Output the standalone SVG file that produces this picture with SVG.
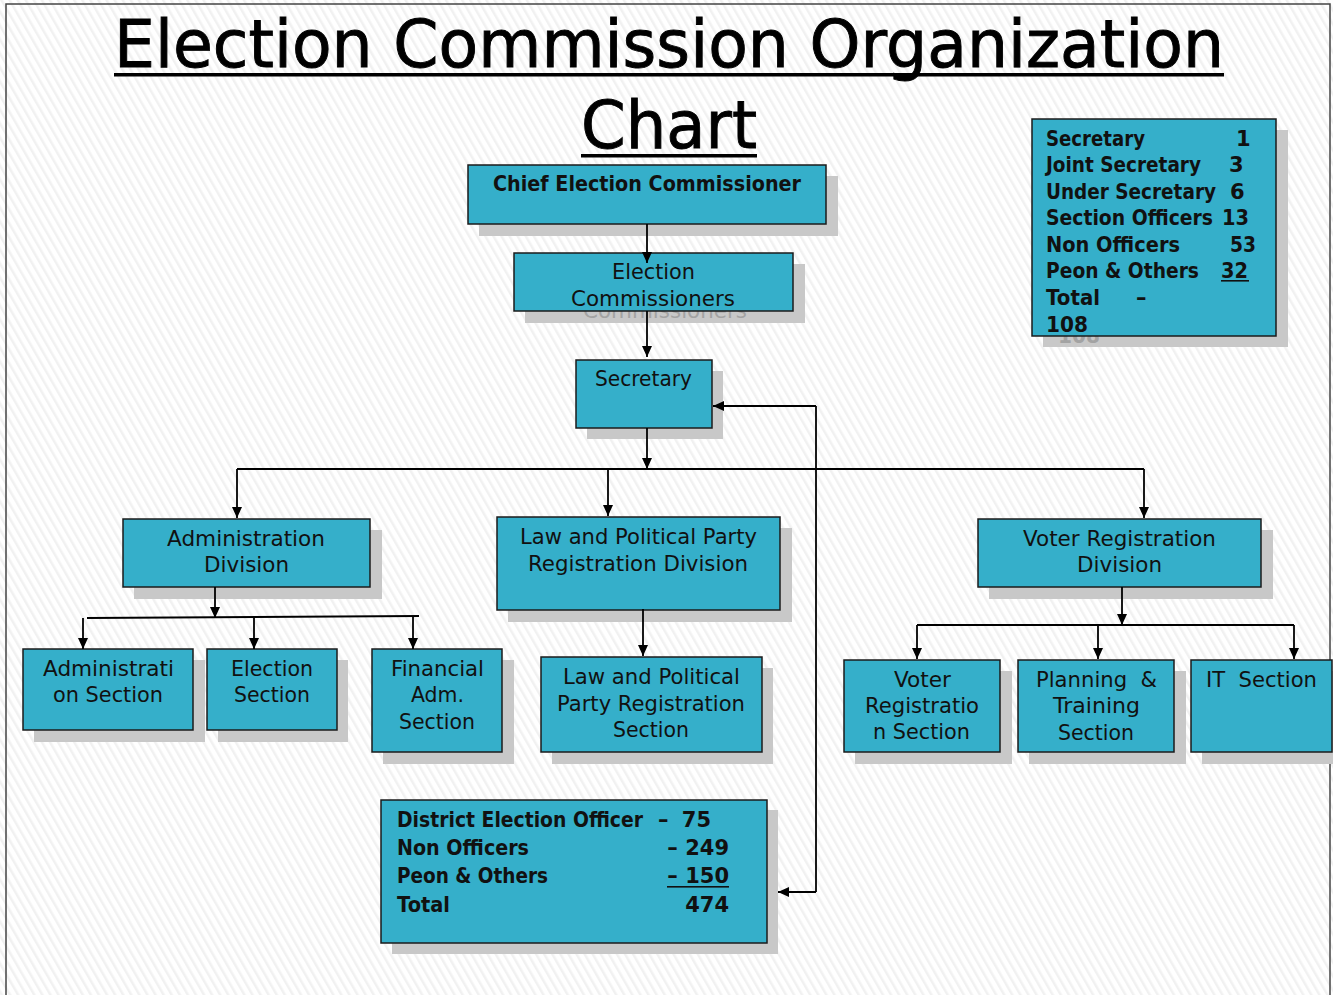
<svg xmlns="http://www.w3.org/2000/svg" width="1333" height="995" viewBox="0 0 1333 995">
<defs>
<pattern id="hatch" width="7" height="7" patternUnits="userSpaceOnUse" patternTransform="rotate(-30)">
<rect width="7" height="7" fill="#ffffff"/>
<rect width="2.5" height="7" fill="#f1f1f1"/>
</pattern>
<marker id="ah" markerUnits="userSpaceOnUse" markerWidth="12" markerHeight="11" refX="11" refY="5" orient="auto">
<path d="M0,0 L11,5 L0,10 z" fill="#000"/>
</marker>
<style>
.box{fill:#35afca;stroke:#1b1b1b;stroke-width:1.5}
.sh{fill:#c8c8c8}
.t{font-family:'DejaVu Sans',Verdana,sans-serif;font-size:20.5px;fill:#111}
.b{font-weight:bold;font-size:21px}
.g{fill:#a3a3a3}
.c{stroke:#000;stroke-width:1.8;fill:none}
.a{marker-end:url(#ah)}
.ttl{font-family:'DejaVu Sans',Verdana,sans-serif;font-size:65px;fill:#000;stroke:#000;stroke-width:0.9}
</style>
</defs>
<rect x="0" y="0" width="1333" height="995" fill="url(#hatch)"/>
<rect x="6" y="4" width="1324" height="995" fill="none" stroke="#444" stroke-width="1.5"/>

<g id="title">
<text class="ttl" x="114" y="67" textLength="1110" lengthAdjust="spacingAndGlyphs">Election Commission Organization</text>
<rect x="114" y="73" width="1110" height="3.5" fill="#000"/>
<text class="ttl" x="581" y="148" textLength="176" lengthAdjust="spacingAndGlyphs">Chart</text>
<rect x="581" y="154" width="176" height="3.5" fill="#000"/>
</g>

<g id="cec">
<rect class="sh" x="479" y="176" width="359" height="60"/>
<rect class="box" x="468" y="165" width="358" height="59"/>
<text class="t b" x="493" y="191" textLength="308" lengthAdjust="spacingAndGlyphs">Chief Election Commissioner</text>
</g>

<g id="ec">
<rect class="sh" x="525" y="264" width="280" height="59"/>
<text class="t g" x="583" y="318" textLength="164" lengthAdjust="spacingAndGlyphs">Commissioners</text>
<rect class="box" x="514" y="253" width="279" height="58"/>
<text class="t" x="612" y="279" textLength="83" lengthAdjust="spacingAndGlyphs">Election</text>
<text class="t" x="571" y="306" textLength="164" lengthAdjust="spacingAndGlyphs">Commissioners</text>
</g>

<g id="secretary">
<rect class="sh" x="587" y="371" width="136" height="68"/>
<rect class="box" x="576" y="360" width="136" height="68"/>
<text class="t" x="595" y="386" textLength="97" lengthAdjust="spacingAndGlyphs">Secretary</text>
</g>

<g id="summary">
<rect class="sh" x="1043" y="130" width="245" height="217"/>
<text class="t b g" x="1058" y="343" textLength="42" lengthAdjust="spacingAndGlyphs">108</text>
<rect class="box" x="1032" y="119" width="244" height="217"/>
<text class="t b" x="1046" y="146" textLength="99" lengthAdjust="spacingAndGlyphs">Secretary</text>
<text class="t b" x="1236" y="146">1</text>
<text class="t b" x="1046" y="172" textLength="155" lengthAdjust="spacingAndGlyphs">Joint Secretary</text>
<text class="t b" x="1229" y="172">3</text>
<text class="t b" x="1046" y="199" textLength="170" lengthAdjust="spacingAndGlyphs">Under Secretary</text>
<text class="t b" x="1230" y="199">6</text>
<text class="t b" x="1046" y="225" textLength="167" lengthAdjust="spacingAndGlyphs">Section Officers</text>
<text class="t b" x="1222" y="225" textLength="27" lengthAdjust="spacingAndGlyphs">13</text>
<text class="t b" x="1046" y="252" textLength="134" lengthAdjust="spacingAndGlyphs">Non Officers</text>
<text class="t b" x="1230" y="252" textLength="26" lengthAdjust="spacingAndGlyphs">53</text>
<text class="t b" x="1046" y="278" textLength="153" lengthAdjust="spacingAndGlyphs">Peon &amp; Others</text>
<text class="t b" x="1221" y="278" textLength="27" lengthAdjust="spacingAndGlyphs">32</text>
<rect x="1221" y="280" width="28" height="1.6" fill="#111"/>
<text class="t b" x="1046" y="305" textLength="54" lengthAdjust="spacingAndGlyphs">Total</text>
<text class="t b" x="1136" y="305">–</text>
<text class="t b" x="1046" y="332" textLength="42" lengthAdjust="spacingAndGlyphs">108</text>
</g>

<g id="admin-division">
<rect class="sh" x="134" y="530" width="248" height="69"/>
<rect class="box" x="123" y="519" width="247" height="68"/>
<text class="t" x="167" y="546" textLength="158" lengthAdjust="spacingAndGlyphs">Administration</text>
<text class="t" x="204" y="572" textLength="85" lengthAdjust="spacingAndGlyphs">Division</text>
</g>

<g id="law-division">
<rect class="sh" x="508" y="528" width="284" height="94"/>
<rect class="box" x="497" y="517" width="283" height="93"/>
<text class="t" x="520" y="544" textLength="237" lengthAdjust="spacingAndGlyphs">Law and Political Party</text>
<text class="t" x="528" y="571" textLength="220" lengthAdjust="spacingAndGlyphs">Registration Division</text>
</g>

<g id="voter-division">
<rect class="sh" x="989" y="530" width="284" height="69"/>
<rect class="box" x="978" y="519" width="283" height="68"/>
<text class="t" x="1023" y="546" textLength="193" lengthAdjust="spacingAndGlyphs">Voter Registration</text>
<text class="t" x="1077" y="572" textLength="85" lengthAdjust="spacingAndGlyphs">Division</text>
</g>

<g id="admin-section">
<rect class="sh" x="34" y="660" width="171" height="82"/>
<rect class="box" x="23" y="649" width="170" height="81"/>
<text class="t" x="43" y="676" textLength="131" lengthAdjust="spacingAndGlyphs">Administrati</text>
<text class="t" x="53" y="702" textLength="110" lengthAdjust="spacingAndGlyphs">on Section</text>
</g>

<g id="election-section">
<rect class="sh" x="218" y="660" width="130" height="82"/>
<rect class="box" x="207" y="649" width="130" height="81"/>
<text class="t" x="231" y="676" textLength="82" lengthAdjust="spacingAndGlyphs">Election</text>
<text class="t" x="234" y="702" textLength="76" lengthAdjust="spacingAndGlyphs">Section</text>
</g>

<g id="financial-section">
<rect class="sh" x="383" y="660" width="131" height="104"/>
<rect class="box" x="372" y="649" width="130" height="103"/>
<text class="t" x="391" y="676" textLength="93" lengthAdjust="spacingAndGlyphs">Financial</text>
<text class="t" x="411" y="702" textLength="53" lengthAdjust="spacingAndGlyphs">Adm.</text>
<text class="t" x="399" y="729" textLength="76" lengthAdjust="spacingAndGlyphs">Section</text>
</g>

<g id="law-section">
<rect class="sh" x="552" y="668" width="221" height="96"/>
<rect class="box" x="541" y="657" width="221" height="95"/>
<text class="t" x="563" y="684" textLength="177" lengthAdjust="spacingAndGlyphs">Law and Political</text>
<text class="t" x="557" y="711" textLength="188" lengthAdjust="spacingAndGlyphs">Party Registration</text>
<text class="t" x="613" y="737" textLength="76" lengthAdjust="spacingAndGlyphs">Section</text>
</g>

<g id="voter-section">
<rect class="sh" x="855" y="671" width="157" height="93"/>
<rect class="box" x="844" y="660" width="156" height="92"/>
<text class="t" x="894" y="687" textLength="57" lengthAdjust="spacingAndGlyphs">Voter</text>
<text class="t" x="865" y="713" textLength="114" lengthAdjust="spacingAndGlyphs">Registratio</text>
<text class="t" x="873" y="739" textLength="97" lengthAdjust="spacingAndGlyphs">n Section</text>
</g>

<g id="planning-section">
<rect class="sh" x="1029" y="671" width="157" height="93"/>
<rect class="box" x="1018" y="660" width="156" height="92"/>
<text class="t" x="1036" y="687" textLength="121" lengthAdjust="spacingAndGlyphs" xml:space="preserve">Planning  &amp;</text>
<text class="t" x="1053" y="713" textLength="87" lengthAdjust="spacingAndGlyphs">Training</text>
<text class="t" x="1058" y="740" textLength="76" lengthAdjust="spacingAndGlyphs">Section</text>
</g>

<g id="it-section">
<rect class="sh" x="1202" y="671" width="140" height="93"/>
<rect class="box" x="1191" y="660" width="141" height="92"/>
<text class="t" x="1206" y="687" textLength="111" lengthAdjust="spacingAndGlyphs" xml:space="preserve">IT  Section</text>
</g>

<g id="district">
<rect class="sh" x="392" y="810" width="386" height="144"/>
<rect class="box" x="381" y="800" width="386" height="143"/>
<text class="t b" x="397" y="827" textLength="246" lengthAdjust="spacingAndGlyphs">District Election Officer</text>
<text class="t b" x="658" y="827">–</text>
<text class="t b" x="711" y="827" text-anchor="end">75</text>
<text class="t b" x="397" y="855" textLength="132" lengthAdjust="spacingAndGlyphs">Non Officers</text>
<text class="t b" x="729" y="855" text-anchor="end">– 249</text>
<text class="t b" x="397" y="883" textLength="151" lengthAdjust="spacingAndGlyphs">Peon &amp; Others</text>
<text class="t b" x="729" y="883" text-anchor="end">– 150</text>
<rect x="667" y="886" width="62" height="1.6" fill="#111"/>
<text class="t b" x="397" y="912" textLength="53" lengthAdjust="spacingAndGlyphs">Total</text>
<text class="t b" x="729" y="912" text-anchor="end">474</text>
</g>

<g id="connectors">
<path class="c a" d="M647,224 V263"/>
<path class="c a" d="M647,311 V357"/>
<path class="c a" d="M647,428 V469"/>
<path class="c" d="M237,469 H1144"/>
<path class="c a" d="M237,469 V518"/>
<path class="c a" d="M608,469 V516"/>
<path class="c a" d="M1144,469 V518"/>
<path class="c a" d="M816,406 H713"/>
<path class="c" d="M816,406 V892"/>
<path class="c a" d="M816,892 H778"/>
<path class="c a" d="M215,587 V618"/>
<path class="c" d="M87,618 L419,616"/>
<path class="c a" d="M83,618 V649"/>
<path class="c a" d="M254,618 V649"/>
<path class="c a" d="M413,617 V649"/>
<path class="c a" d="M643,609 V656"/>
<path class="c a" d="M1122,587 V625"/>
<path class="c" d="M917,625 H1294"/>
<path class="c a" d="M917,625 V659"/>
<path class="c a" d="M1098,625 V659"/>
<path class="c a" d="M1294,625 V659"/>
</g>
</svg>
